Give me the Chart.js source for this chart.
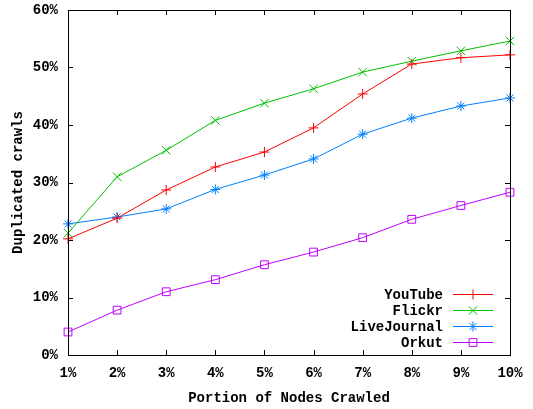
<!DOCTYPE html>
<html>
<head>
<meta charset="utf-8">
<script src="https://cdn.jsdelivr.net/npm/chart.js@4.4.0/dist/chart.umd.min.js"></script>
<style>
  html, body { margin: 0; padding: 0; background: #fff; }
  #wrap { width: 533px; height: 409px; position: relative; }
</style>
</head>
<body>
<div id="wrap"><canvas id="c"></canvas></div>
<script>
// data (percent of duplicated crawls)
const portions = ['1%', '2%', '3%', '4%', '5%', '6%', '7%', '8%', '9%', '10%'];
const youtube = [20.2, 23.8, 28.7, 32.7, 35.3, 39.5, 45.4, 50.6, 51.7, 52.2];
const flickr = [21.2, 31.0, 35.6, 40.8, 43.8, 46.3, 49.2, 51.1, 52.9, 54.6];
const livejournal = [22.8, 24.0, 25.4, 28.8, 31.3, 34.1, 38.4, 41.2, 43.3, 44.7];
const orkut = [4.0, 7.8, 11.0, 13.1, 15.7, 17.9, 20.4, 23.6, 26.0, 28.3];
const yTicks = [0, 10, 20, 30, 40, 50, 60];

const FONT = { family: '"Liberation Mono", "DejaVu Sans Mono", monospace', size: 14, weight: 'bold' };

function series(label, data, color, style, radius) {
    return {
        label: label,
        data: data,
        borderColor: color,
        backgroundColor: 'rgba(0,0,0,0)',
        borderWidth: 1,
        pointStyle: style,
        pointRadius: radius,
        pointBorderColor: color,
        pointBackgroundColor: 'rgba(0,0,0,0)',
        pointBorderWidth: 1,
        tension: 0
    };
}

// gnuplot-like frame: full border with inward ticks on all four sides
const framePlugin = {
    id: 'frame',
    afterDraw(chart) {
        const ctx = chart.ctx;
        const a = chart.chartArea;
        const xs = chart.scales.x, ys = chart.scales.y;
        const tick = 5;
        ctx.save();
        ctx.strokeStyle = '#000';
        ctx.lineWidth = 1;
        ctx.beginPath();
        xs.ticks.forEach((t, i) => {
            const px = Math.round(xs.getPixelForTick(i)) + 0.5;
            ctx.moveTo(px, a.bottom); ctx.lineTo(px, a.bottom - tick);
            ctx.moveTo(px, a.top); ctx.lineTo(px, a.top + tick);
        });
        ys.ticks.forEach((t, i) => {
            const py = Math.round(ys.getPixelForTick(i)) + 0.5;
            ctx.moveTo(a.left, py); ctx.lineTo(a.left + tick, py);
            ctx.moveTo(a.right, py); ctx.lineTo(a.right - tick, py);
        });
        ctx.stroke();
        ctx.strokeRect(Math.round(a.left) + 0.5, Math.round(a.top) + 0.5,
            Math.round(a.right - a.left), Math.round(a.bottom - a.top));
        ctx.restore();
    }
};

// legend in the lower right: right-aligned label, then line sample with marker
const keyPlugin = {
    id: 'key',
    afterDraw(chart) {
        const ctx = chart.ctx;
        const a = chart.chartArea;
        const rowH = 16;
        const n = chart.data.datasets.length;
        const textRight = a.right - 67;
        const lineL = a.right - 57, lineR = a.right - 17;
        let y = a.bottom - 13 - (n - 1) * rowH;
        ctx.save();
        ctx.font = FONT.weight + ' ' + FONT.size + 'px ' + FONT.family;
        ctx.textAlign = 'right';
        ctx.textBaseline = 'middle';
        chart.data.datasets.forEach(ds => {
            ctx.fillStyle = '#000';
            ctx.fillText(ds.label, textRight, y + 1);
            ctx.strokeStyle = ds.borderColor;
            ctx.lineWidth = 1;
            ctx.beginPath();
            ctx.moveTo(lineL, Math.round(y) + 0.5);
            ctx.lineTo(lineR, Math.round(y) + 0.5);
            ctx.stroke();
            ctx.fillStyle = 'rgba(0,0,0,0)';
            Chart.helpers.drawPoint(ctx, {
                pointStyle: ds.pointStyle, radius: ds.pointRadius,
                rotation: 0, borderWidth: 1
            }, (lineL + lineR) / 2, Math.round(y) + 0.5);
            y += rowH;
        });
        ctx.restore();
    }
};

new Chart(document.getElementById('c'), {
    type: 'line',
    data: {
        labels: portions,
        datasets: [
            series('YouTube', youtube, '#ff0000', 'cross', 5),
            series('Flickr', flickr, '#00c000', 'crossRot', 6),
            series('LiveJournal', livejournal, '#0080ff', 'star', 5),
            series('Orkut', orkut, '#c000ff', 'rect', 5.5)
        ]
    },
    options: {
        responsive: true,
        maintainAspectRatio: false,
        animation: false,
        layout: { padding: { left: 10, top: 10, right: 23, bottom: 2 } },
        plugins: {
            legend: { display: false },
            tooltip: { enabled: false }
        },
        scales: {
            x: {
                type: 'category',
                offset: false,
                grid: { display: false, drawTicks: false },
                border: { display: false },
                ticks: { color: '#000', font: FONT, padding: 10, maxRotation: 0, autoSkip: false },
                title: { display: true, text: 'Portion of Nodes Crawled', color: '#000', font: FONT, padding: { top: 4, bottom: 0 } },
                afterFit(scale) { scale.height = 52; }
            },
            y: {
                min: 0,
                max: 60,
                grid: { display: false, drawTicks: false },
                border: { display: false },
                afterBuildTicks(scale) { scale.ticks = yTicks.map(v => ({ value: v })); },
                ticks: { color: '#000', font: FONT, padding: 10, callback: v => v + '%' },
                title: { display: true, text: 'Duplicated crawls', color: '#000', font: FONT, padding: { top: 0, bottom: 4 } },
                afterFit(scale) {
                    scale.width = 58;
                    scale.paddingTop = 0;
                    scale.paddingBottom = 0;
                }
            }
        }
    },
    plugins: [framePlugin, keyPlugin]
});
</script>
</body>
</html>
